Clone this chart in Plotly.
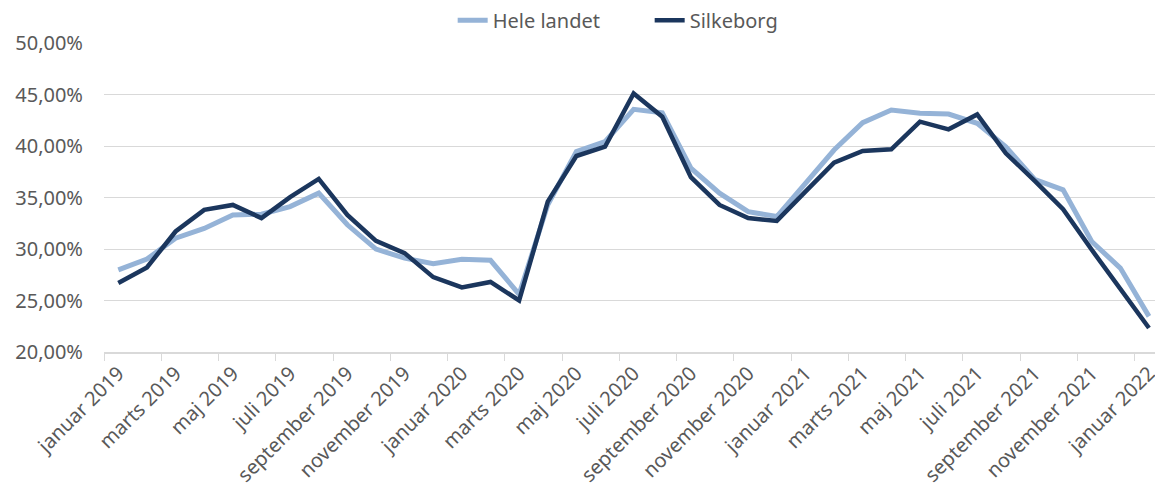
import plotly.graph_objects as go

months = ["januar", "februar", "marts", "april", "maj", "juni", "juli", "august",
          "september", "oktober", "november", "december"]
categories = [f"{months[i % 12]} {2019 + i // 12}" for i in range(37)]

hele_landet = [27.98, 29.02, 31.05, 32.0, 33.31, 33.38, 34.12, 35.42, 32.35, 29.99,
               29.11, 28.57, 29.0, 28.9, 25.6, 34.3, 39.45, 40.42, 43.56, 43.23,
               37.84, 35.42, 33.63, 33.15, 36.38, 39.61, 42.26, 43.49, 43.17, 43.10,
               42.2, 39.93, 36.77, 35.74, 30.73, 28.15, 23.46]
silkeborg = [26.70, 28.21, 31.70, 33.80, 34.28, 33.0, 35.03, 36.80, 33.31, 30.79,
             29.60, 27.27, 26.27, 26.8, 25.0, 34.6, 39.03, 39.93, 45.1, 42.84,
             36.97, 34.28, 33.0, 32.73, 35.57, 38.38, 39.52, 39.68, 42.36, 41.62,
             43.07, 39.29, 36.64, 33.87, 29.92, 26.05, 22.33]

font_family = "Noto Sans, Open Sans, sans-serif"

fig = go.Figure()
fig.add_trace(go.Scatter(x=categories, y=[v / 100 for v in hele_landet], mode="lines",
                         name="Hele landet", line=dict(color="#95B3D7", width=5)))
fig.add_trace(go.Scatter(x=categories, y=[v / 100 for v in silkeborg], mode="lines",
                         name="Silkeborg", line=dict(color="#1B365D", width=4.5)))

# page has an 8px body margin, so the figure is sized to fit inside the window
fig.update_layout(
    width=1155, height=486,
    margin=dict(l=96, r=2, t=35, b=142, autoexpand=False),
    paper_bgcolor="white", plot_bgcolor="white",
    separators=",.",
    font=dict(family=font_family, color="#595959", size=20),
    showlegend=True,
    legend=dict(orientation="h", xref="container", yref="container",
                x=0.385, xanchor="left", y=0.975, yanchor="middle",
                font=dict(size=20, color="#595959"), bgcolor="rgba(0,0,0,0)",
                itemwidth=30, entrywidth=152, entrywidthmode="pixels"),
    xaxis=dict(type="category", categoryorder="array", categoryarray=categories,
               range=[-0.5, 36.42], dtick=2, tickangle=-45, tickson="boundaries",
               ticks="outside", ticklen=7, tickcolor="#D9D9D9", tickwidth=1.3,
               showgrid=False, showline=True, linecolor="#D9D9D9", linewidth=1.5,
               tickfont=dict(size=20, color="#595959"), zeroline=False,
               automargin=False),
    yaxis=dict(range=[0.2, 0.5], dtick=0.05, tickformat=".2%",
               showgrid=True, gridcolor="#D9D9D9", gridwidth=1.3,
               zeroline=False, showline=False, ticks="", ticklabelstandoff=20,
               tickfont=dict(size=20, color="#595959"), automargin=False),
)

fig.write_html("out.html")
